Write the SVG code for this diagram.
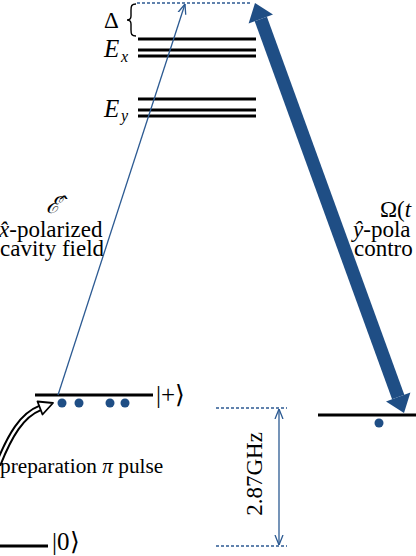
<svg xmlns="http://www.w3.org/2000/svg" width="416" height="556" viewBox="0 0 416 556">
<style>
.t{font-family:'Liberation Serif','Times New Roman',serif;font-size:23px;fill:#000;}
.e{font-family:'Liberation Serif','Times New Roman',serif;font-size:25px;font-style:italic;fill:#000;}
.p{font-family:'Liberation Serif','Times New Roman',serif;font-size:21.3px;fill:#000;}
.k{font-family:'Liberation Serif','Times New Roman',serif;font-size:25px;fill:#000;}
.s{font-family:'Liberation Serif','Times New Roman',serif;font-size:16px;font-style:italic;fill:#000;}
.lvl{stroke:#000;stroke-width:3;fill:none;}
.thin{stroke:#2C5A92;stroke-width:1.3;fill:none;}
.dash{stroke:#2C5A92;stroke-width:1.3;stroke-dasharray:3,2;fill:none;}
.dot{fill:#1F4E85;}
</style>
<defs>
<marker id="vh" viewBox="0 0 10 10" refX="10" refY="5" markerWidth="10" markerHeight="10" markerUnits="userSpaceOnUse" orient="auto-start-reverse">
<path d="M0,1 L10,5 L0,9" fill="none" stroke="#2C5A92" stroke-width="1.3"/>
</marker>
</defs>

<g id="levels">
<g id="Ex"><line class="lvl" x1="138" y1="39" x2="256" y2="39"/><line class="lvl" x1="138" y1="50" x2="256" y2="50"/><line class="lvl" x1="138" y1="56" x2="256" y2="56"/>
<text class="e" x="104" y="57">E</text><text class="s" x="121" y="62">x</text></g>
<g id="Ey"><line class="lvl" x1="138" y1="99" x2="256" y2="99"/><line class="lvl" x1="138" y1="110" x2="256" y2="110"/><line class="lvl" x1="138" y1="116" x2="256" y2="116"/>
<text class="e" x="104" y="117">E</text><text class="s" x="121" y="121">y</text></g>
<g id="delta"><line class="dash" x1="137" y1="3" x2="252" y2="3"/>
<path d="M136,4 C131.5,4 131,6 131,10 L131,16 C131,19 129.5,20 127,20 C129.5,20 131,21 131,24 L131,30 C131,34 131.5,36 136,36" fill="none" stroke="#000" stroke-width="1.4"/>
<text class="t" x="104" y="28">Δ</text></g>
<g id="plus"><line class="lvl" x1="35" y1="395" x2="153" y2="395"/><text class="k" x="156" y="403">|+⟩</text>
<circle class="dot" cx="62" cy="403" r="4.5"/><circle class="dot" cx="79" cy="403" r="4.5"/><circle class="dot" cx="110" cy="403" r="4.5"/><circle class="dot" cx="125" cy="403" r="4.5"/></g>
<g id="minus"><line class="lvl" x1="318" y1="415" x2="416" y2="415"/><circle class="dot" cx="379" cy="423" r="4.5"/></g>
<g id="zero"><line class="lvl" x1="0" y1="546" x2="48" y2="546"/><text class="k" x="52" y="550">|0⟩</text></g>
</g>

<g id="labels">
<g id="cavity">
<text class="t" x="46" y="213" font-style="italic">ℰ̂</text>
<text class="t" x="-1" y="237"><tspan font-style="italic">x̂</tspan>-polarized</text>
<text class="t" x="0" y="256">cavity field</text>
</g>
<g id="control">
<text class="t" x="380" y="217">Ω(<tspan font-style="italic">t</tspan></text>
<text class="t" x="353" y="237"><tspan font-style="italic">ŷ</tspan>-pola</text>
<text class="t" x="354" y="256">contro</text>
</g>
<g id="prep"><text class="p" x="0" y="473">preparation <tspan font-style="italic">π</tspan> pulse</text></g>
<g id="freq">
<line class="dash" x1="216" y1="408" x2="287" y2="408"/><line class="dash" x1="216" y1="546" x2="287" y2="546"/>
<text class="t" transform="translate(262,474) rotate(-90)" text-anchor="middle">2.87GHz</text>
</g>
</g>

<g id="connectors">
<line class="thin" x1="58" y1="395" x2="185" y2="4" marker-end="url(#vh)"/>
<line class="thin" x1="279" y1="409" x2="279" y2="545" marker-start="url(#vh)" marker-end="url(#vh)"/>
<g id="control-arrow" fill="#1F4E85">
<line x1="260.8" y1="19" x2="398.2" y2="397" stroke="#1F4E85" stroke-width="13"/>
<polygon points="255,3 273,14.6 248.6,23.4"/>
<polygon points="404,413 410.4,392.6 386,401.4"/>
</g>
<g id="prep-arrow">
<path d="M-2,465 C10,435 22,415 40,408" fill="none" stroke="#000" stroke-width="6.5"/>
<path d="M-2,465 C10,435 22,415 40,408" fill="none" stroke="#fff" stroke-width="2.5"/>
<polygon points="53,403 37.5,401.5 42.5,414.5" fill="#fff" stroke="#000" stroke-width="1.8" stroke-linejoin="round"/>
</g>
</g>
</svg>
